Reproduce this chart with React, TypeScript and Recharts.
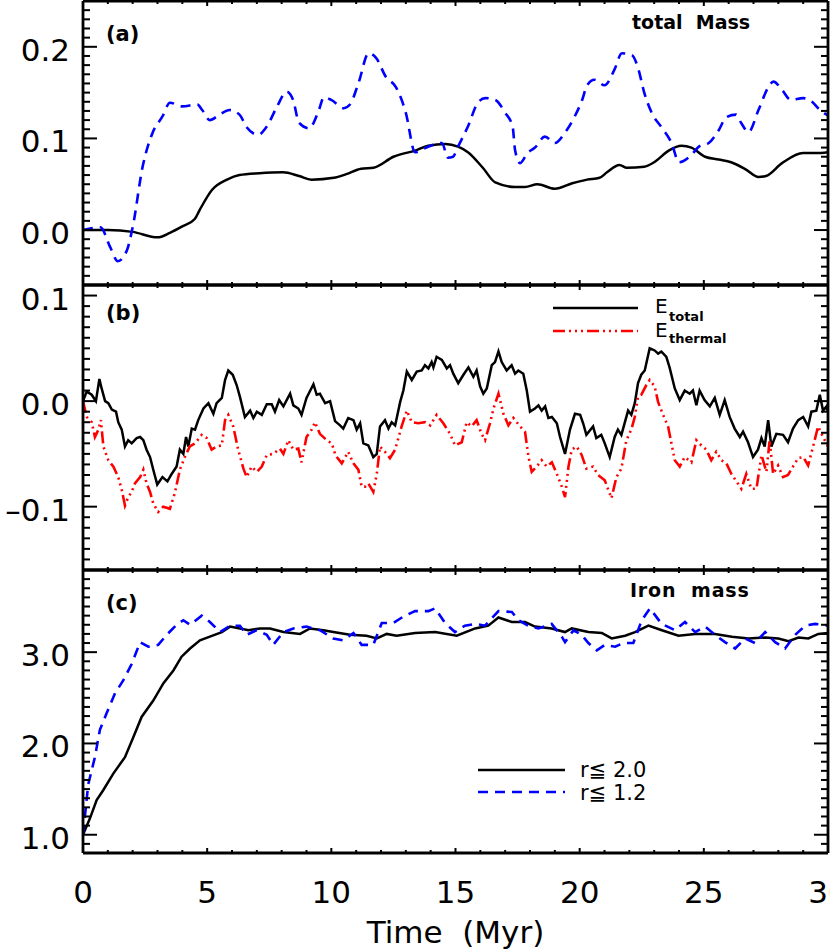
import { LineChart, Line, XAxis, YAxis, Legend } from "recharts";

const FONT = '"DejaVu Sans", sans-serif';

// shared time axis (Myr)
const timeDomain: [number, number] = [0, 30];
const timeMajor = [0, 5, 10, 15, 20, 25, 30];

// (a) total mass
const massDomain: [number, number] = [-0.06, 0.25];
const massMajor = [0.0, 0.1, 0.2];
const massOuterT = [
  0, 1, 2, 3, 3.5, 4, 4.5, 4.7, 5.2, 5.8,
  6.3, 7.1, 8.05, 8.7, 9.2, 10.1, 10.6, 11.2, 11.7, 12.5,
  13.4, 13.9, 14.6, 15.1, 15.5, 16.1, 16.6, 17.4, 17.8, 18.3,
  19.0, 19.7, 20.3, 20.8, 21.1, 21.6, 21.9, 22.6, 23.0, 23.6,
  24.1, 24.5, 25.05, 25.6, 26.1, 26.7, 27.2, 27.5, 28.15, 29.0,
  29.5, 30,
];
const massOuter = [
  0, 0, -0.002, -0.008, -0.003, 0.004, 0.012, 0.022, 0.044, 0.055,
  0.06, 0.062, 0.063, 0.059, 0.055, 0.057, 0.061, 0.067, 0.068, 0.08,
  0.087, 0.092, 0.094, 0.091, 0.085, 0.068, 0.052, 0.047, 0.047, 0.05,
  0.045, 0.051, 0.055, 0.057, 0.063, 0.071, 0.068, 0.069, 0.074, 0.087,
  0.092, 0.09, 0.08, 0.077, 0.074, 0.066, 0.058, 0.059, 0.073, 0.084,
  0.084, 0.085,
];
const massInnerT = [
  0, 0.7, 1.1, 1.4, 1.77, 2.0, 2.4, 2.8, 3.2, 3.5,
  4.0, 4.6, 4.8, 5.1, 5.5, 5.9, 6.3, 6.6, 7.05, 7.4,
  7.8, 8.2, 8.46, 8.7, 9.1, 9.5, 9.7, 10.0, 10.5, 10.75,
  11.1, 11.5, 11.8, 12.2, 12.6, 13.0, 13.37, 13.9, 14.45, 14.7,
  14.9, 15.1, 15.5, 15.9, 16.2, 16.6, 17.0, 17.3, 17.4, 17.6,
  17.9, 18.2, 18.6, 19.0, 19.4, 19.8, 20.1, 20.3, 20.6, 21.0,
  21.4, 21.7, 22.1, 22.35, 22.6, 22.9, 23.3, 23.7, 24.0, 24.5,
  24.8, 25.2, 25.6, 25.9, 26.3, 26.5, 26.8, 27.2, 27.6, 27.8,
  28.15, 28.5, 29.0, 29.4, 29.6, 30,
];
const massInner = [
  0, 0.003, -0.019, -0.034, -0.022, 0.003, 0.069, 0.106, 0.124, 0.139,
  0.135, 0.137, 0.131, 0.12, 0.126, 0.131, 0.126, 0.112, 0.104, 0.113,
  0.134, 0.151, 0.142, 0.117, 0.111, 0.131, 0.145, 0.142, 0.133, 0.137,
  0.161, 0.193, 0.188, 0.167, 0.156, 0.128, 0.085, 0.091, 0.095, 0.079,
  0.08, 0.091, 0.113, 0.139, 0.144, 0.142, 0.128, 0.113, 0.087, 0.073,
  0.084, 0.09, 0.102, 0.095, 0.106, 0.124, 0.142, 0.158, 0.164, 0.158,
  0.175, 0.193, 0.191, 0.177, 0.15, 0.128, 0.112, 0.095, 0.074, 0.082,
  0.091, 0.095, 0.109, 0.123, 0.126, 0.117, 0.107, 0.131, 0.156, 0.162,
  0.153, 0.142, 0.144, 0.139, 0.133, 0.125,
];

// (b) energies
const energyDomain: [number, number] = [-0.16, 0.11];
const energyMajor = [-0.1, 0.0, 0.1];
const eTotalT = [
  0, 0.15, 0.35, 0.52, 0.66, 0.75, 0.89, 1.02, 1.16, 1.33,
  1.42, 1.56, 1.69, 1.82, 1.96, 2.16, 2.3, 2.43, 2.56, 2.7,
  2.83, 2.99, 3.2, 3.4, 3.57, 3.77, 3.9, 4.04, 4.15, 4.24,
  4.38, 4.51, 4.64, 4.85, 5.05, 5.25, 5.38, 5.59, 5.72, 5.85,
  6.03, 6.19, 6.32, 6.52, 6.73, 6.86, 7.0, 7.2, 7.4, 7.6,
  7.73, 7.9, 8.07, 8.34, 8.47, 8.67, 8.8, 9.0, 9.28, 9.41,
  9.54, 9.75, 9.95, 10.15, 10.35, 10.48, 10.68, 10.89, 11.02, 11.16,
  11.29, 11.49, 11.69, 11.83, 11.96, 12.16, 12.3, 12.43, 12.57, 12.77,
  12.9, 13.04, 13.24, 13.44, 13.64, 13.77, 13.91, 14.04, 14.11, 14.24,
  14.45, 14.65, 14.78, 14.91, 15.11, 15.32, 15.52, 15.72, 15.85, 15.99,
  16.12, 16.26, 16.46, 16.59, 16.73, 16.86, 17.06, 17.26, 17.4, 17.53,
  17.73, 17.87, 18.0, 18.2, 18.34, 18.47, 18.61, 18.74, 18.88, 19.08,
  19.21, 19.41, 19.61, 19.81, 20.02, 20.14, 20.27, 20.54, 20.67, 20.87,
  21.01, 21.21, 21.41, 21.54, 21.68, 21.95, 22.08, 22.22, 22.35, 22.48,
  22.62, 22.82, 23.02, 23.16, 23.29, 23.49, 23.62, 23.83, 24.03, 24.23,
  24.43, 24.56, 24.7, 24.83, 25.03, 25.24, 25.44, 25.64, 25.84, 26.04,
  26.24, 26.45, 26.58, 26.78, 26.98, 27.18, 27.32, 27.45, 27.59, 27.72,
  27.92, 28.19, 28.39, 28.59, 28.8, 29.0, 29.2, 29.33, 29.53, 29.67,
  29.8, 29.94, 30,
];
const eTotal = [
  0, 0.009, 0.006, 0, 0.021, 0.012, 0, -0.002, -0.008, -0.01,
  -0.02, -0.027, -0.043, -0.037, -0.04, -0.035, -0.034, -0.037, -0.046, -0.053,
  -0.065, -0.079, -0.072, -0.076, -0.069, -0.062, -0.046, -0.05, -0.034, -0.043,
  -0.026, -0.027, -0.018, -0.007, -0.002, -0.012, -0.002, 0.003, 0.02, 0.029,
  0.025, 0.015, 0.004, -0.015, -0.009, -0.016, -0.01, -0.013, -0.003, -0.003,
  -0.01, 0.001, -0.005, 0.007, -0.004, -0.007, -0.013, 0.003, 0.016, 0.006,
  0.007, -0.002, 0.0, -0.019, -0.023, -0.026, -0.016, -0.018, -0.027, -0.021,
  -0.04, -0.042, -0.053, -0.05, -0.024, -0.018, -0.026, -0.02, -0.023, -0.001,
  0.01, 0.028, 0.02, 0.028, 0.029, 0.034, 0.031, 0.037, 0.032, 0.042,
  0.039, 0.031, 0.034, 0.026, 0.017, 0.025, 0.032, 0.023, 0.029, 0.014,
  0.007, 0.012, 0.034, 0.037, 0.047, 0.037, 0.029, 0.034, 0.026, 0.029,
  0.026, 0.01, -0.01, -0.007, -0.004, -0.009, -0.005, -0.016, -0.015, -0.021,
  -0.034, -0.05, -0.027, -0.012, -0.013, -0.021, -0.032, -0.024, -0.035, -0.032,
  -0.04, -0.053, -0.034, -0.027, -0.032, -0.009, -0.013, -0.002, 0.017, 0.025,
  0.029, 0.05, 0.048, 0.045, 0.047, 0.042, 0.032, 0.012, 0.001, 0.01,
  0.007, 0.01, -0.004, 0.01, 0.001, -0.005, 0.003, -0.013, 0.001, -0.015,
  -0.026, -0.034, -0.029, -0.039, -0.053, -0.046, -0.035, -0.043, -0.018, -0.043,
  -0.031, -0.032, -0.039, -0.026, -0.018, -0.015, -0.024, -0.01, -0.009, 0.006,
  -0.009, -0.005, -0.01,
];
const eThermalT = [
  0, 0.15, 0.35, 0.48, 0.62, 0.72, 0.82, 1.02, 1.22, 1.42,
  1.56, 1.69, 1.82, 1.96, 2.09, 2.3, 2.43, 2.56, 2.7, 2.83,
  3.03, 3.23, 3.5, 3.7, 3.9, 4.1, 4.3, 4.51, 4.78, 4.98,
  5.18, 5.38, 5.59, 5.72, 5.85, 6.05, 6.25, 6.46, 6.59, 6.79,
  7.0, 7.2, 7.4, 7.66, 7.93, 8.07, 8.27, 8.47, 8.67, 8.8,
  9.0, 9.21, 9.34, 9.54, 9.81, 10.02, 10.15, 10.22, 10.42, 10.68,
  10.89, 11.09, 11.22, 11.36, 11.49, 11.69, 11.83, 11.96, 12.16, 12.36,
  12.57, 12.7, 12.83, 13.04, 13.24, 13.5, 13.77, 13.98, 14.24, 14.51,
  14.78, 14.98, 15.25, 15.45, 15.65, 15.85, 16.05, 16.19, 16.39, 16.53,
  16.73, 16.93, 17.13, 17.33, 17.6, 17.8, 17.94, 18.07, 18.27, 18.47,
  18.67, 18.88, 19.08, 19.28, 19.41, 19.55, 19.68, 19.88, 20.08, 20.27,
  20.54, 20.74, 21.01, 21.28, 21.48, 21.68, 21.88, 22.08, 22.22, 22.35,
  22.48, 22.68, 22.82, 23.02, 23.16, 23.36, 23.56, 23.83, 24.03, 24.23,
  24.5, 24.7, 24.9, 25.1, 25.3, 25.5, 25.71, 25.91, 26.11, 26.31,
  26.51, 26.71, 26.91, 27.12, 27.32, 27.52, 27.65, 27.79, 27.99, 28.19,
  28.39, 28.59, 28.8, 29.0, 29.2, 29.4, 29.6, 29.8, 30,
];
const eThermal = [
  0, -0.015, -0.02, -0.034, -0.027, -0.018, -0.043, -0.056, -0.062, -0.072,
  -0.084, -0.099, -0.091, -0.086, -0.078, -0.072, -0.065, -0.078, -0.086, -0.097,
  -0.105, -0.1, -0.102, -0.087, -0.065, -0.053, -0.043, -0.04, -0.032, -0.035,
  -0.046, -0.043, -0.042, -0.018, -0.013, -0.024, -0.046, -0.064, -0.072, -0.062,
  -0.067, -0.062, -0.051, -0.05, -0.045, -0.05, -0.037, -0.046, -0.045, -0.058,
  -0.034, -0.027, -0.02, -0.031, -0.037, -0.04, -0.05, -0.053, -0.059, -0.048,
  -0.059, -0.065, -0.081, -0.081, -0.078, -0.086, -0.069, -0.043, -0.048, -0.054,
  -0.046, -0.035, -0.024, -0.009, -0.02, -0.021, -0.02, -0.023, -0.013, -0.021,
  -0.031, -0.042, -0.039, -0.02, -0.024, -0.018, -0.031, -0.037, -0.021, -0.007,
  0.007, -0.012, -0.023, -0.016, -0.024, -0.029, -0.053, -0.067, -0.062, -0.056,
  -0.062, -0.058, -0.069, -0.081, -0.091, -0.062, -0.046, -0.043, -0.051, -0.064,
  -0.062, -0.07, -0.075, -0.092, -0.072, -0.064, -0.037, -0.027, -0.015, 0.004,
  0.006, 0.015, 0.02, 0.014, -0.001, -0.013, -0.024, -0.056, -0.062, -0.053,
  -0.058, -0.037, -0.042, -0.046, -0.056, -0.048, -0.056, -0.059, -0.069, -0.076,
  -0.083, -0.069, -0.083, -0.083, -0.051, -0.067, -0.037, -0.069, -0.061, -0.072,
  -0.07, -0.062, -0.054, -0.053, -0.061, -0.043, -0.024, -0.034, -0.043,
];

// (c) iron mass
const ironDomain: [number, number] = [0.8, 3.9];
const ironMajor = [1.0, 2.0, 3.0];
const ironOuterT = [
  0, 0.28, 0.55, 0.82, 1.22, 1.69, 2.03, 2.36, 2.83, 3.24,
  3.64, 3.97, 4.31, 4.71, 5.11, 5.59, 5.92, 6.32, 6.66, 7.13,
  7.53, 8.07, 8.74, 9.14, 9.68, 10.08, 10.75, 11.42, 11.83, 12.23,
  12.63, 13.37, 14.18, 15.05, 15.79, 16.32, 16.73, 17.27, 17.8, 18.2,
  18.87, 19.41, 19.68, 20.35, 20.89, 21.29, 21.83, 22.23, 22.77, 23.31,
  23.98, 24.65, 25.45, 26.13, 26.8, 27.47, 28.0, 28.41, 28.81, 29.21,
  29.61, 30,
];
const ironOuter = [
  1.0, 1.18, 1.38, 1.49, 1.67, 1.85, 2.07, 2.29, 2.47, 2.66,
  2.8, 2.95, 3.04, 3.13, 3.17, 3.22, 3.28, 3.26, 3.24, 3.26,
  3.26, 3.22, 3.2, 3.26, 3.24, 3.22, 3.19, 3.18, 3.15, 3.2,
  3.18, 3.21, 3.22, 3.18, 3.26, 3.29, 3.38, 3.33, 3.33, 3.28,
  3.26, 3.22, 3.26, 3.22, 3.21, 3.15, 3.18, 3.22, 3.29, 3.24,
  3.18, 3.2, 3.2, 3.17, 3.15, 3.16, 3.15, 3.12, 3.16, 3.15,
  3.2, 3.21,
];
const ironInnerT = [
  0, 0.21, 0.48, 0.68, 0.95, 1.29, 1.62, 1.96, 2.3, 2.63,
  3.03, 3.37, 3.77, 4.04, 4.31, 4.78, 5.11, 5.52, 5.92, 6.32,
  6.59, 6.99, 7.4, 7.66, 8.07, 8.47, 9.0, 9.54, 10.08, 10.48,
  10.89, 11.22, 11.69, 12.03, 12.5, 12.9, 13.37, 13.91, 14.18, 14.58,
  14.98, 15.38, 15.79, 16.19, 16.73, 17.27, 17.53, 17.93, 18.34, 18.87,
  19.28, 19.41, 19.75, 20.08, 20.35, 20.69, 21.02, 21.43, 21.76, 22.16,
  22.5, 22.83, 23.3, 23.84, 24.24, 24.65, 25.05, 25.45, 25.85, 26.26,
  26.66, 27.06, 27.47, 27.87, 28.27, 28.68, 29.08, 29.48, 30,
];
const ironInner = [
  1.0, 1.55, 1.85, 2.15, 2.33, 2.55, 2.69, 2.87, 3.11, 3.06,
  3.08, 3.19, 3.3, 3.35, 3.3, 3.4, 3.33, 3.22, 3.29, 3.29,
  3.19, 3.24, 3.19, 3.08, 3.22, 3.26, 3.28, 3.24, 3.15, 3.13,
  3.21, 3.08, 3.08, 3.32, 3.32, 3.39, 3.45, 3.45, 3.48, 3.32,
  3.22, 3.29, 3.31, 3.29, 3.45, 3.44, 3.35, 3.29, 3.26, 3.31,
  3.17, 3.11, 3.24, 3.19, 3.1, 3.02, 3.08, 3.06, 3.1, 3.1,
  3.35, 3.48, 3.31, 3.24, 3.33, 3.22, 3.28, 3.19, 3.11, 3.04,
  3.15, 3.1, 3.22, 3.11, 3.04, 3.19, 3.29, 3.31, 3.29,
];

const BLACK = "#000000";
const BLUE = "#0000ff";
const RED = "#ff0000";
const DASH_BLUE = "10 7";
const DASH_RED = "12 4 2 4 2 4 2 4";

const zip = (ts: number[], vs: number[]) => ts.map((t, i) => ({ t, v: vs[i] }));

// evenly spaced tick values between lo and hi
const stepTicks = (lo: number, hi: number, step: number) => {
  const out: number[] = [];
  const n = Math.round((hi - lo) / step);
  for (let i = 0; i <= n; i++) out.push(Math.round((lo + i * step) * 1000) / 1000);
  return out;
};

const timeTicks = stepTicks(0, 30, 1);
const isMajor = (majors: number[], v: number) => majors.some((m) => Math.abs(m - v) < 1e-6);
const fmtY = (v: number) => (v < 0 ? "\u2013" : "") + Math.abs(v).toFixed(1);

const axisLine = { stroke: BLACK, strokeWidth: 2.8 };

function yTick(side: "left" | "right", majors: number[]) {
  return (p: any) => {
    const v = p.payload.value;
    const major = isMajor(majors, v);
    const dir = side === "left" ? 1 : -1;
    return (
      <g>
        <line x1={p.x} x2={p.x + dir * (major ? 14 : 7)} y1={p.y} y2={p.y} stroke={BLACK} strokeWidth={2} />
        {major && side === "left" && (
          <text x={p.x - 13} y={p.y + 14} textAnchor="end" fontSize={31} fontFamily={FONT} fill={BLACK}>
            {fmtY(v)}
          </text>
        )}
      </g>
    );
  };
}

function xTick(side: "top" | "bottom", labels: boolean) {
  return (p: any) => {
    const v = p.payload.value;
    const major = isMajor(timeMajor, v);
    const dir = side === "bottom" ? -1 : 1;
    return (
      <g>
        <line x1={p.x} x2={p.x} y1={p.y} y2={p.y + dir * (major ? 5 : 3)} stroke={BLACK} strokeWidth={2} />
        {major && labels && (
          <text x={p.x} y={p.y + 50} textAnchor="middle" fontSize={31} fontFamily={FONT} fill={BLACK}>
            {v}
          </text>
        )}
      </g>
    );
  };
}

// four framed axes per panel; the bottom one carries the time labels in (c)
function frame(domain: [number, number], majors: number[], step: number, timeLabels: boolean) {
  const yTicks = stepTicks(domain[0], domain[1], step);
  return [
    <XAxis
      key="xb"
      xAxisId="b"
      dataKey="t"
      type="number"
      domain={timeDomain}
      ticks={timeTicks}
      interval={0}
      allowDataOverflow
      height={timeLabels ? 96 : 1}
      tickSize={0}
      tickMargin={0}
      tickLine={false}
      stroke={BLACK}
      axisLine={axisLine}
      tick={xTick("bottom", timeLabels)}
      label={
        timeLabels
          ? { value: "Time\u00a0 (Myr)", position: "insideBottom", offset: 6, fontSize: 31, fontFamily: FONT, fill: BLACK }
          : undefined
      }
    />,
    <XAxis
      key="xt"
      xAxisId="t"
      orientation="top"
      dataKey="t"
      type="number"
      domain={timeDomain}
      ticks={timeTicks}
      interval={0}
      allowDataOverflow
      height={1}
      tickSize={0}
      tickMargin={0}
      tickLine={false}
      stroke={BLACK}
      axisLine={axisLine}
      tick={xTick("top", false)}
    />,
    <YAxis
      key="yl"
      yAxisId="l"
      type="number"
      domain={domain}
      ticks={yTicks}
      interval={0}
      allowDataOverflow
      width={83}
      tickSize={0}
      tickMargin={0}
      tickLine={false}
      stroke={BLACK}
      axisLine={axisLine}
      tick={yTick("left", majors)}
    />,
    <YAxis
      key="yr"
      yAxisId="r"
      orientation="right"
      type="number"
      domain={domain}
      ticks={yTicks}
      interval={0}
      allowDataOverflow
      width={1}
      tickSize={0}
      tickMargin={0}
      tickLine={false}
      stroke={BLACK}
      axisLine={axisLine}
      tick={yTick("right", majors)}
    />,
  ];
}

const panelText = { fontFamily: FONT, fill: BLACK };

function EnergyLegend() {
  return (
    <svg width={220} height={60} style={{ overflow: "visible" }}>
      <line x1={13} x2={98} y1={13} y2={13} stroke={BLACK} strokeWidth={2.5} />
      <text x={115} y={18} fontSize={20} {...panelText}>E</text>
      <text x={129} y={26} fontSize={13} fontWeight="bold" {...panelText}>total</text>
      <line x1={13} x2={98} y1={36} y2={36} stroke={RED} strokeWidth={2.6} strokeDasharray={DASH_RED} />
      <text x={115} y={42} fontSize={20} {...panelText}>E</text>
      <text x={129} y={48} fontSize={13} fontWeight="bold" {...panelText}>thermal</text>
    </svg>
  );
}

function IronLegend() {
  return (
    <svg width={200} height={55} style={{ overflow: "visible" }}>
      <line x1={8} x2={95} y1={15} y2={15} stroke={BLACK} strokeWidth={2.5} />
      <text x={110} y={22} fontSize={21} {...panelText}>r≦ 2.0</text>
      <line x1={8} x2={95} y1={37} y2={37} stroke={BLUE} strokeWidth={2.6} strokeDasharray={DASH_BLUE} />
      <text x={110} y={45} fontSize={21} {...panelText}>r≦ 1.2</text>
    </svg>
  );
}

export default function App() {
  const margin = { left: 0, right: 1 };
  return (
    <div style={{ position: "absolute", left: 0, top: 0, width: 830, height: 949, background: "#fff" }}>
      <div style={{ position: "absolute", left: 0, top: 0 }}>
        <LineChart width={830} height={290} margin={{ ...margin, top: 0, bottom: 4 }}>
          {frame(massDomain, massMajor, 0.01, false)}
          <Line xAxisId="b" yAxisId="l" data={zip(massOuterT, massOuter)} dataKey="v" name="r≦ 2.0" type="monotone"
            stroke={BLACK} strokeWidth={2.5} dot={false} activeDot={false} isAnimationActive={false} />
          <Line xAxisId="b" yAxisId="l" data={zip(massInnerT, massInner)} dataKey="v" name="r≦ 1.2" type="monotone"
            stroke={BLUE} strokeWidth={2.6} strokeDasharray={DASH_BLUE} dot={false} activeDot={false} isAnimationActive={false} />
          <text x={106} y={41} fontSize={21} fontWeight="bold" {...panelText}>(a)</text>
          <text x={632} y={29} fontSize={19} fontWeight="bold" {...panelText}>total{"\u00a0 "}Mass</text>
        </LineChart>
      </div>
      <div style={{ position: "absolute", left: 0, top: 280 }}>
        <LineChart width={830} height={295} margin={{ ...margin, top: 4, bottom: 4 }}>
          {frame(energyDomain, energyMajor, 0.01, false)}
          <Line xAxisId="b" yAxisId="l" data={zip(eTotalT, eTotal)} dataKey="v" name="E total" type="linear"
            stroke={BLACK} strokeWidth={2.5} dot={false} activeDot={false} isAnimationActive={false} />
          <Line xAxisId="b" yAxisId="l" data={zip(eThermalT, eThermal)} dataKey="v" name="E thermal" type="linear"
            stroke={RED} strokeWidth={2.6} strokeDasharray={DASH_RED} dot={false} activeDot={false} isAnimationActive={false} />
          <Legend layout="horizontal" align="center" verticalAlign="middle" content={() => <EnergyLegend />}
            wrapperStyle={{ left: 540, top: 15, width: 220, height: 60 }} />
          <text x={106} y={40} fontSize={21} fontWeight="bold" {...panelText}>(b)</text>
        </LineChart>
      </div>
      <div style={{ position: "absolute", left: 0, top: 565 }}>
        <LineChart width={830} height={384} margin={{ ...margin, top: 4, bottom: 0 }}>
          {frame(ironDomain, ironMajor, 0.1, true)}
          <Line xAxisId="b" yAxisId="l" data={zip(ironOuterT, ironOuter)} dataKey="v" name="r≦ 2.0" type="linear"
            stroke={BLACK} strokeWidth={2.5} dot={false} activeDot={false} isAnimationActive={false} />
          <Line xAxisId="b" yAxisId="l" data={zip(ironInnerT, ironInner)} dataKey="v" name="r≦ 1.2" type="linear"
            stroke={BLUE} strokeWidth={2.6} strokeDasharray={DASH_BLUE} dot={false} activeDot={false} isAnimationActive={false} />
          <Legend layout="horizontal" align="center" verticalAlign="middle" content={() => <IronLegend />}
            wrapperStyle={{ left: 470, top: 190, width: 200, height: 55 }} />
          <text x={106} y={45} fontSize={21} fontWeight="bold" {...panelText}>(c)</text>
          <text x={630} y={32} fontSize={19} fontWeight="bold" letterSpacing={0.8} {...panelText}>Iron{"\u00a0 "}mass</text>
        </LineChart>
      </div>
    </div>
  );
}
